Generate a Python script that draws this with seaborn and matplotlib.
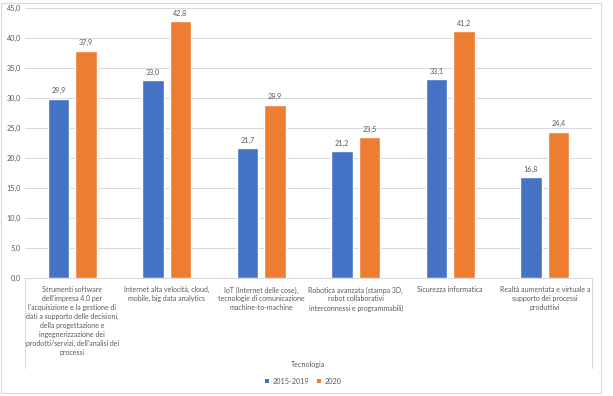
import numpy as np
import pandas as pd
import matplotlib
matplotlib.use("Agg")
import matplotlib.pyplot as plt
import seaborn as sns
from matplotlib.patches import Patch, Rectangle
from matplotlib.lines import Line2D

# data
categories = [
    "Strumenti software\ndell'impresa 4.0 per\nl'acquisizione e la gestione di\n"
    "dati a supporto delle decisioni,\ndella progettazione e\n"
    "ingegnerizzazione dei\nprodotti/servizi, dell'analisi dei\nprocessi",
    "Internet alta velocità, cloud,\nmobile, big data analytics",
    "IoT (Internet delle cose),\ntecnologie di comunicazione\nmachine-to-machine",
    "Robotica avanzata (stampa 3D,\nrobot collaborativi\ninterconnessi e programmabili)",
    "Sicurezza informatica",
    "Realtà aumentata e virtuale a\nsupporto dei processi\nproduttivi",
]
periods = ["2015-2019", "2020"]
values_2015_2019 = [29.9, 33.0, 21.7, 21.2, 33.1, 16.8]
values_2020 = [37.9, 42.8, 28.9, 23.5, 41.2, 24.4]
y_ticks = [0, 5, 10, 15, 20, 25, 30, 35, 40, 45]

colors = {"2015-2019": "#4472C4", "2020": "#ED7D31"}
text_grey = "#595959"
line_grey = "#D9D9D9"

df = pd.DataFrame({
    "Tecnologia": categories * 2,
    "periodo": [periods[0]] * len(categories) + [periods[1]] * len(categories),
    "valore": values_2015_2019 + values_2020,
})

sns.set_style("white")
plt.rcParams["font.family"] = ["Lato", "DejaVu Sans"]

fig = plt.figure(figsize=(6.13, 3.96), dpi=100)
ax = fig.add_axes([0.0408, 0.298, 0.925, 0.682])

sns.barplot(data=df, x="Tecnologia", y="valore", hue="periodo",
            order=categories, hue_order=periods, palette=colors,
            width=0.58, gap=0.22, saturation=1, legend=False, ax=ax)

fmt = lambda v: f"{v:.1f}".replace(".", ",")
for cont in ax.containers:
    ax.bar_label(cont, labels=[fmt(b.get_height()) for b in cont],
                 padding=3, fontsize=5.2, color=text_grey)

ax.set_ylim(0, 45)
ax.set_xlim(-0.5, len(categories) - 0.5)
ax.set_yticks(y_ticks)
ax.set_yticklabels([fmt(t) for t in y_ticks], fontsize=5.2, color=text_grey)
ax.set_xticks(range(len(categories)))
ax.set_xticklabels(categories, fontsize=5.0, color=text_grey, linespacing=1.33)
ax.tick_params(axis="both", length=0)
ax.tick_params(axis="x", pad=6)
ax.tick_params(axis="y", pad=3)
ax.yaxis.grid(True, color=line_grey, linewidth=0.75)
ax.set_axisbelow(True)
for side in ["top", "left", "right"]:
    ax.spines[side].set_visible(False)
ax.spines["bottom"].set_color(line_grey)
ax.spines["bottom"].set_linewidth(0.75)
ax.set_ylabel("")
ax.set_xlabel("")

# outer edges of the category axis box
for xa in (0, 1):
    ax.add_line(Line2D([xa, xa], [0, -0.333], transform=ax.transAxes,
                       color=line_grey, linewidth=0.75, clip_on=False))

fig.text(0.5 * (25 + 592) / 613, 1 - 364 / 396, "Tecnologia", ha="center",
         va="center", fontsize=5.2, color=text_grey)

handles = [Patch(facecolor=colors[p], edgecolor="none") for p in periods]
fig.legend(handles, periods, loc="center", bbox_to_anchor=(0.495, 1 - 381 / 396),
           ncol=2, frameon=False, fontsize=5.2, handlelength=0.6, handleheight=0.6,
           handletextpad=0.5, columnspacing=1.0, labelcolor=text_grey)

fig.patches.append(Rectangle((0.002, 0.007), 600 / 613, 0.985, transform=fig.transFigure,
                             fill=False, edgecolor=line_grey, linewidth=0.8))

fig.savefig("out.png", dpi=100)
